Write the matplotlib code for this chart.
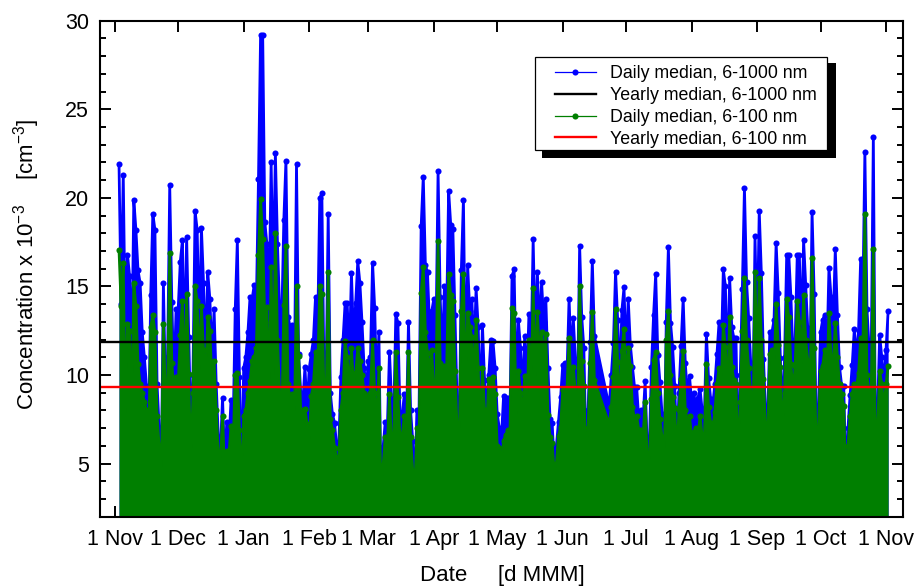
import numpy as np
import matplotlib
matplotlib.use("Agg")
import matplotlib.pyplot as plt
from matplotlib.lines import Line2D
from matplotlib.patches import Rectangle

plt.rcParams["font.family"] = ["Liberation Sans", "DejaVu Sans"]
plt.rcParams["mathtext.fontset"] = "custom"
plt.rcParams["mathtext.rm"] = "Liberation Sans"
plt.rcParams["mathtext.default"] = "rm"

# days since 1 Nov, first reading on day 2, None = no data that day
first_day = 2

median_1000 = [
    21.9, 14.0, 21.3, 12.0, 16.8, 15.6, 10.5, 19.9, 18.2, 15.9,
    15.2, 12.4, 11.0, 9.4, 6.5, 14.5, 19.1, 18.2, 9.5, 7.0,
    4.1, 15.2, 9.0, 11.0, 20.7, 14.1, 9.5, 13.7, 13.7, 16.4,
    17.6, 11.0, 17.8, 12.15, 6.9, 10.0, 19.25, 18.2, 12.0, 18.3,
    15.2, 11.0, 15.8, 14.3, 11.0, 13.7, 9.5, 6.5, 5.8, 8.7,
    5.0, 7.35, 6.0, 8.6, 7.0, 13.7, 17.6, 9.9, 3.9, 10.4,
    11.0, 12.4, 14.4, 14.3, 15.1, 14.0, 21.05, 29.2, 29.2, 18.65,
    17.4, 14.0, 22.0, 15.0, 22.55, 17.4, 13.8, 13.0, 18.75, 22.1,
    13.3, 12.7, 12.8, 9.7, 21.9, 11.2, 9.0, 8.5, 10.45, 8.0,
    10.35, 11.2, 12.0, 14.4, 12.5, 20.0, 20.25, 10.0, 9.5, 19.1,
    9.0, 7.8, 7.3, 6.0, 6.0, 9.86, 12.0, 14.05, 14.05, 11.0,
    15.77, 12.0, 14.05, 16.43, 15.2, 13.0, 10.4, 9.2, 10.8, 11.0,
    16.35, 13.8, 9.0, 12.4, 3.2, 5.94, 7.35, 7.0, 11.3, 8.5,
    7.5, 13.43, 12.95, 7.7, 7.67, 8.9, 7.0, 13.0, 8.0, 6.3,
    3.8, 8.05, 8.0, 18.4, 21.2, 16.2, 15.8, 12.7, 13.6, 14.3,
    12.0, 21.5, 14.4, 11.0, 15.0, 13.0, 20.4, 18.46, 18.26, 13.4,
    8.5, 6.3, 15.9, 19.9, 10.0, 16.2, 13.6, 14.3, 11.0, 14.9,
    12.7, 8.0, 12.85, 9.7, 8.0, 10.0, 12.0, 11.9, 10.4, 7.8,
    7.0, 6.5, 8.8, 8.7, 8.7, 7.5, 15.6, 15.96, 9.0, 13.1,
    11.55, 9.0, 12.2, 9.5, 13.43, 11.0, 17.65, 12.0, 15.8, 12.5,
    15.24, 13.0, 14.3, 10.4, 7.5, 7.3, 4.8, 6.0, 7.35, 8.75,
    10.55, 10.7, 10.0, 14.3, 11.0, 13.2, 10.8, 9.0, 17.3, 13.3,
    11.5, 5.8, 8.0, 11.87, 16.43, 12.2, None, None, None, None,
    None, None, 8.2, 10.0, 11.8, 15.83, 13.1, 9.5, 13.66, 14.94,
    11.0, 14.3, 11.7, 10.46, 9.3, 9.3, 7.5, 8.0, 7.5, 9.65,
    5.9, 6.0, 10.46, 13.4, 15.7, 11.15, 9.6, 7.8, 5.0, 13.0,
    17.2, 12.96, 11.6, 9.4, 5.66, 9.0, 11.65, 14.3, 10.65, 9.0,
    9.93, 8.5, 9.0, 8.2, 8.7, 9.2, 8.0, 7.5, 12.3, 9.84,
    8.67, 8.3, 9.5, 11.2, 13.0, 11.0, 15.96, 15.0, 10.0, 15.45,
    12.7, 12.1, 12.1, 5.0, 10.0, 14.85, 20.57, 15.26, 13.2, 10.65,
    8.0, 17.84, 12.0, 19.27, 15.77, 10.9, 7.96, 7.5, 12.4, 12.4,
    13.1, 17.45, 14.64, 10.97, 7.8, 11.0, 16.8, 16.75, 14.4, 11.0,
    12.0, 16.8, 16.75, 12.0, 17.6, 15.07, 12.66, 10.0, 19.2, 14.6,
    6.5, 8.0, 12.4, 13.1, 13.4, 11.0, 16.05, 14.4, 13.0, 17.1,
    13.4, 10.46, 9.4, 9.4, 3.96, 7.0, 8.85, 10.55, 12.6, 11.0,
    12.5, 16.54, 14.0, 22.6, 13.7, 11.55, 11.0, 23.45, 6.1, 8.0,
    12.25, 11.0, 9.5, 11.4, 13.6,
]

median_100 = [
    17.05, 13.9, 16.3, 7.5, 12.9, 12.5, 7.0, 15.2, 13.9, 10.6,
    9.5, 9.0, 8.5, 8.0, 5.8, 12.7, 13.4, 12.4, 7.7, 6.0,
    3.8, 12.9, 8.5, 9.5, 16.9, 10.7, 9.0, 9.9, 9.5, 12.25,
    14.2, 9.0, 14.6, 10.05, 4.5, 9.0, 15.0, 14.2, 10.0, 13.9,
    11.4, 9.5, 13.3, 12.5, 9.5, 10.8, 8.0, 5.5, 5.2, 7.67,
    4.5, 5.7, 5.5, 7.1, 6.0, 10.0, 10.1, 6.9, 3.6, 7.7,
    8.0, 9.0, 9.65, 10.8, 11.0, 11.5, 16.8, 19.95, 17.65, 13.0,
    13.85, 8.0, 16.1, 9.0, 18.0, 12.0, 9.0, 7.0, 13.94, 17.3,
    9.5, 8.5, 8.95, 7.5, 15.0, 11.1, 8.0, 7.5, 8.1, 7.25,
    6.0, 8.8, 9.5, 11.3, 10.0, 15.0, 14.6, 9.0, 8.5, 15.8,
    7.5, 6.9, 5.9, 5.3, 5.2, 8.0, 9.0, 11.9, 11.0, 9.0,
    11.5, 9.5, 10.1, 11.5, 10.8, 10.0, 9.0, 8.8, 8.2, 9.0,
    11.97, 9.0, 7.0, 10.4, 3.0, 4.9, 6.5, 6.0, 8.9, 6.0,
    6.5, 11.3, 8.76, 6.5, 6.5, 7.7, 6.5, 11.3, 6.5, 4.6,
    3.6, 7.0, 6.5, 14.64, 16.1, 12.4, 11.25, 10.1, 11.4, 9.0,
    9.5, 17.56, 10.65, 10.0, 10.5, 10.0, 15.7, 14.5, 14.2, 10.2,
    7.0, 5.9, 13.6, 15.7, 8.5, 13.5, 12.7, 12.15, 9.5, 13.1,
    10.4, 6.5, 10.4, 8.0, 7.0, 9.8, 9.7, 9.9, 8.9, 6.0,
    5.9, 5.0, 6.3, 6.6, 6.9, 6.5, 13.8, 13.5, 7.5, 10.25,
    9.0, 7.5, 9.95, 7.6, 12.0, 9.0, 14.9, 9.5, 13.57, 11.0,
    12.44, 11.0, 12.3, 7.76, 6.5, 6.15, 4.5, 5.0, 6.54, 7.07,
    9.14, 9.0, 9.2, 12.1, 9.0, 10.46, 9.0, 7.5, 15.04, 10.8,
    9.4, 5.0, 7.0, 10.65, 13.57, 9.7, None, None, None, None,
    None, None, 7.2, 8.2, 9.86, 13.7, 10.74, 8.0, 11.34, 12.6,
    9.5, 11.5, 10.5, 8.2, 7.5, 7.67, 6.9, 6.88, 6.5, 8.48,
    5.3, 5.0, 8.67, 10.87, 11.3, 9.0, 7.5, 6.5, 4.7, 12.0,
    13.6, 10.0, 8.76, 8.14, 5.3, 8.0, 9.8, 11.36, 8.0, 7.5,
    7.7, 6.5, 6.8, 7.0, 6.5, 7.7, 6.5, 6.3, 10.6, 8.2,
    7.3, 7.0, 7.9, 9.5, 10.4, 9.5, 12.8, 11.6, 8.5, 13.3,
    10.46, 9.7, 9.5, 4.8, 8.5, 12.5, 15.5, 12.0, 10.4, 9.0,
    6.5, 15.8, 10.0, 15.5, 12.0, 9.75, 7.0, 6.5, 11.2, 11.4,
    10.0, 14.0, 11.7, 10.46, 6.5, 9.0, 14.3, 13.25, 10.6, 9.0,
    10.5, 14.2, 13.0, 10.5, 14.5, 12.0, 10.8, 8.5, 16.6, 11.5,
    5.5, 7.0, 10.2, 10.5, 11.4, 9.5, 13.5, 11.0, 10.5, 12.95,
    11.0, 9.5, 8.9, 8.24, 3.7, 6.0, 7.67, 8.95, 9.5, 9.3,
    10.1, 12.1, 11.0, 19.07, 10.0, 9.0, 9.0, 17.1, 5.5, 7.0,
    10.2, 9.5, 8.0, 9.5, 10.5,
]

yearly_1000 = 11.84
yearly_100 = 9.33

month_days = [0, 30, 61, 92, 120, 151, 181, 212, 242, 273, 304, 334, 365]
month_labels = ["1 Nov", "1 Dec", "1 Jan", "1 Feb", "1 Mar", "1 Apr", "1 May",
                "1 Jun", "1 Jul", "1 Aug", "1 Sep", "1 Oct", "1 Nov"]

legend_names = ["Daily median, 6-1000 nm", "Yearly median, 6-1000 nm",
                "Daily median, 6-100 nm", "Yearly median, 6-100 nm"]

BLUE = "#0000ff"
GREEN = "#007f00"

# drop the missing days, the line just runs across the gap
y1 = np.array(median_1000, dtype=float)
y2 = np.array(median_100, dtype=float)
days = np.arange(first_day, first_day + len(y1))
keep = ~np.isnan(y1)
days, y1, y2 = days[keep], y1[keep], y2[keep]

W, H = 916, 588
fig = plt.figure(figsize=(W / 100, H / 100), dpi=100)
ax = fig.add_axes([100 / W, 1 - 516.7 / H, 802.7 / W, 496 / H])

ax.fill_between(days, y1, 2, color=BLUE, lw=0, zorder=2)
ax.plot(days, y1, color=BLUE, lw=2.0, marker="o", ms=4.4, mew=0, zorder=2)
ax.fill_between(days, y2, 2, color=GREEN, lw=0, zorder=3)
ax.plot(days, y2, color=GREEN, lw=2.0, marker="o", ms=4.4, mew=0, zorder=3)
ax.axhline(yearly_1000, color="black", lw=1.7, zorder=4)
ax.axhline(yearly_100, color="red", lw=1.7, zorder=5)

ax.set_xlim(-7, 372.9)
ax.set_ylim(2, 30)
ax.set_xticks(month_days)
ax.set_xticklabels(month_labels)
ax.set_yticks([5, 10, 15, 20, 25, 30])
ax.set_yticks(range(2, 31), minor=True)
ax.tick_params(which="major", direction="in", length=8, width=1.4, top=True, right=True,
               labelsize=15.5)
ax.tick_params(axis="x", which="major", pad=9)
ax.tick_params(axis="y", which="major", pad=8)
ax.tick_params(which="minor", direction="in", length=4, width=1.4, right=True)
ax.tick_params(axis="x", which="minor", length=0)
for s in ax.spines.values():
    s.set_linewidth(1.5)
    s.set_zorder(6)

fig.text(502 / W, 1 - 575 / H, "Date     [d MMM]", fontsize=16, ha="center", va="center")
fig.text(27 / W, 1 - 264 / H, r"Concentration x 10$^{-3}$    [cm$^{-3}$]", fontsize=16,
         rotation=90, ha="center", va="center")


def box(x0, y0, x1, y1, **kw):
    # rectangle given in picture pixels
    fig.add_artist(Rectangle((x0 / W, 1 - y1 / H), (x1 - x0) / W, (y1 - y0) / H,
                             transform=fig.transFigure, **kw))


# legend with a hard black shadow
box(542.3, 63.3, 835.7, 158.3, facecolor="black", edgecolor="none", zorder=20)
box(535.3, 56.7, 826.7, 150, facecolor="white", edgecolor="black", lw=0.9, zorder=21)
row_y = [72, 93.7, 115.7, 137.3]
row_style = [(BLUE, 0.9, "o"), ("black", 1.7, None), (GREEN, 0.9, "o"), ("red", 1.7, None)]
for yy, name, (col, lw, mk) in zip(row_y, legend_names, row_style):
    fig.add_artist(Line2D([555 / W, 596 / W], [1 - yy / H] * 2, color=col, lw=lw,
                          transform=fig.transFigure, zorder=22))
    if mk:
        fig.add_artist(Line2D([575 / W], [1 - yy / H], color=col, marker=mk, ms=4.4, mew=0,
                              transform=fig.transFigure, zorder=22))
    fig.text(609.5 / W, 1 - yy / H, name, fontsize=12.75, ha="left", va="center_baseline", zorder=22)

fig.savefig("out.png", dpi=100)
